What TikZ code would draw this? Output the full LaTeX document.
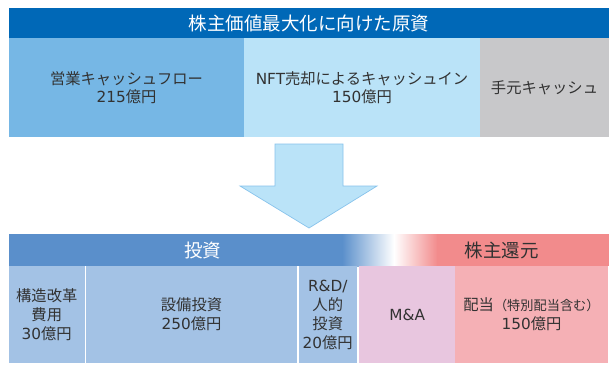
\documentclass[tikz,border=0pt]{standalone}
\usepackage{fontspec}
\setmainfont{Noto Sans CJK JP}
\newfontfamily\lat{DejaVu Sans}
\definecolor{hdr}{RGB}{0,104,183}
\definecolor{cA}{RGB}{118,183,229}
\definecolor{cB}{RGB}{186,227,248}
\definecolor{cC}{RGB}{200,200,202}
\definecolor{arrowline}{RGB}{135,195,236}
\definecolor{bandblue}{RGB}{90,143,203}
\definecolor{bandpink}{RGB}{242,139,140}
\definecolor{lblue}{RGB}{163,194,229}
\definecolor{lmauve}{RGB}{232,198,223}
\definecolor{lpink}{RGB}{245,176,181}
\definecolor{txt}{RGB}{50,50,50}
\tikzset{
  cell/.style={rectangle, inner sep=0pt, outer sep=0pt, draw=none, align=center, text=txt},
  topcell/.style={cell, minimum height=99pt, font=\fontsize{15.3}{17.5}\selectfont},
  lowcell/.style={cell, fill=lblue, minimum height=97pt, font=\fontsize{15.3}{19}\selectfont},
  headtext/.style={inner sep=0pt, text=white, font=\fontsize{18.5}{20}\selectfont},
}
\begin{document}
\begin{tikzpicture}[x=1pt,y=-1pt]
\useasboundingbox (0,0) rectangle (609,372);
\fill[white] (0,0) rectangle (609,372);
% header
\node[cell, fill=hdr, minimum width=600pt, minimum height=30pt, text=white, font=\fontsize{18.5}{20}\selectfont] (hdr) at (309,23) {株主価値最大化に向けた原資};
% top cells
\node[topcell, fill=cA, minimum width=235pt] (c1) at (126.5,87.5) {営業キャッシュフロー\\{\lat 215}億円};
\node[topcell, fill=cB, minimum width=236pt] (c2) at (362,87.5) {{\lat NFT}売却によるキャッシュイン\\{\lat 150}億円};
\node[topcell, fill=cC, minimum width=129pt] (c3) at (544.5,87.5) {手元キャッシュ};
% arrow
\draw[fill=cB, draw=arrowline, line width=0.7pt, line join=miter]
  (275,144) -- (343,144) -- (343,186) -- (377,186) -- (309,228) -- (240,186) -- (275,186) -- cycle;
% band
\fill[bandblue] (9,234) rectangle (342.5,266);
\shade[left color=bandblue, right color=white] (342,234) rectangle (394,266);
\shade[left color=white, right color=bandpink] (394,234) rectangle (437.5,266);
\fill[bandpink] (437,234) rectangle (609,266);
\node[headtext] (inv) at (202.5,250) {投資};
\node[headtext, text=txt] (ret) at (501.5,250) {株主還元};
% lower cells
\node[lowcell, minimum width=75.5pt] (l1) at (46.75,314.5) {構造改革\\費用\\{\lat 30}億円};
\node[lowcell, minimum width=211pt] (l2) at (191.5,314.5) {設備投資\\{\lat 250}億円};
\node[lowcell, minimum width=58.5pt] (l3) at (327.75,314.5) {{\lat R\&D/}\\人的\\投資\\{\lat 20}億円};
\node[lowcell, fill=lmauve, minimum width=97.5pt] (l4) at (407.25,314.5) {{\lat M\&A}};
\node[lowcell, fill=lpink, minimum width=153pt] (l5) at (531.5,314.5) {配当{\fontsize{13.2}{14}\selectfont（特別配当含む）}\\{\lat 150}億円};
\end{tikzpicture}
\end{document}
